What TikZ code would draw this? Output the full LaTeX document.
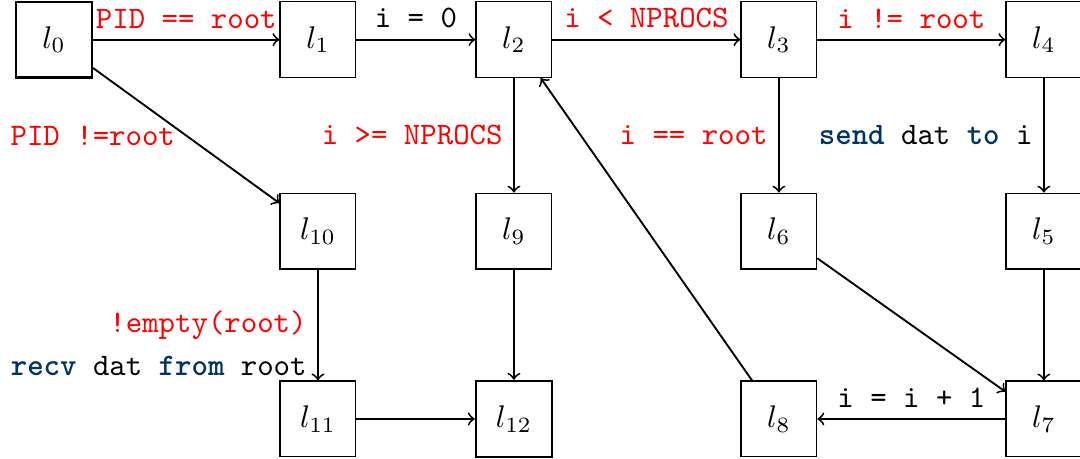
\documentclass[tikz,border=0pt]{standalone}
\usepackage{xcolor}
\definecolor{kwblue}{RGB}{0,51,102}
\newcommand{\kw}[1]{\textcolor{kwblue}{\textbf{#1}}}
\newcommand{\guard}[1]{\textcolor{red}{#1}}
\tikzset{
    loc/.style={draw, minimum size=0.85cm, inner sep=0pt},
    endloc/.style={loc, thick},
    trans/.style={->, semithick},
    lbl/.style={font=\ttfamily}
}
\begin{document}
\begin{tikzpicture}
    \useasboundingbox (0,0) rectangle (12.13,5.155);
    \node[endloc] (l0) at (0.606,4.71) {$l_0$};
    \node[loc] (l1) at (3.571,4.71) {$l_1$};
    \node[loc] (l2) at (5.772,4.71) {$l_2$};
    \node[loc] (l3) at (8.748,4.71) {$l_3$};
    \node[loc] (l4) at (11.724,4.71) {$l_4$};
    \node[loc] (l10) at (3.571,2.56) {$l_{10}$};
    \node[loc] (l9) at (5.772,2.56) {$l_9$};
    \node[loc] (l6) at (8.748,2.56) {$l_6$};
    \node[loc] (l5) at (11.724,2.56) {$l_5$};
    \node[loc] (l11) at (3.571,0.45) {$l_{11}$};
    \node[endloc] (l12) at (5.772,0.45) {$l_{12}$};
    \node[loc] (l8) at (8.748,0.45) {$l_8$};
    \node[loc] (l7) at (11.724,0.45) {$l_7$};
    % top row
    \draw[trans] (l0) -- node[lbl, above] {\guard{PID == root}} (l1);
    \draw[trans] (l1) -- node[lbl, above] {i = 0} (l2);
    \draw[trans] (l2) -- node[lbl, above] {\guard{i < NPROCS}} (l3);
    \draw[trans] (l3) -- node[lbl, above] {\guard{i != root}} (l4);
    % going down
    \draw[trans] (l0) -- node[lbl, left] {\guard{PID !=root}} (l10);
    \draw[trans] (l2) -- node[lbl, left] {\guard{i >= NPROCS}} (l9);
    \draw[trans] (l3) -- node[lbl, left] {\guard{i == root}} (l6);
    \draw[trans] (l4) -- node[lbl, left] {\kw{send} dat \kw{to} i} (l5);
    \draw[trans] (l10) -- node[lbl, left] {\guard{!empty(root)}}
    node[lbl, left, pos=0.87] {\kw{recv} dat \kw{from} root} (l11);
    \draw[trans] (l9) -- (l12);
    \draw[trans] (l5) -- (l7);
    \draw[trans] (l6) -- (l7);
    % bottom row and loop back
    \draw[trans] (l11) -- (l12);
    \draw[trans] (l7) -- node[lbl, above] {i = i + 1} (l8);
    \draw[trans] (l8) -- (l2);
\end{tikzpicture}
\end{document}
